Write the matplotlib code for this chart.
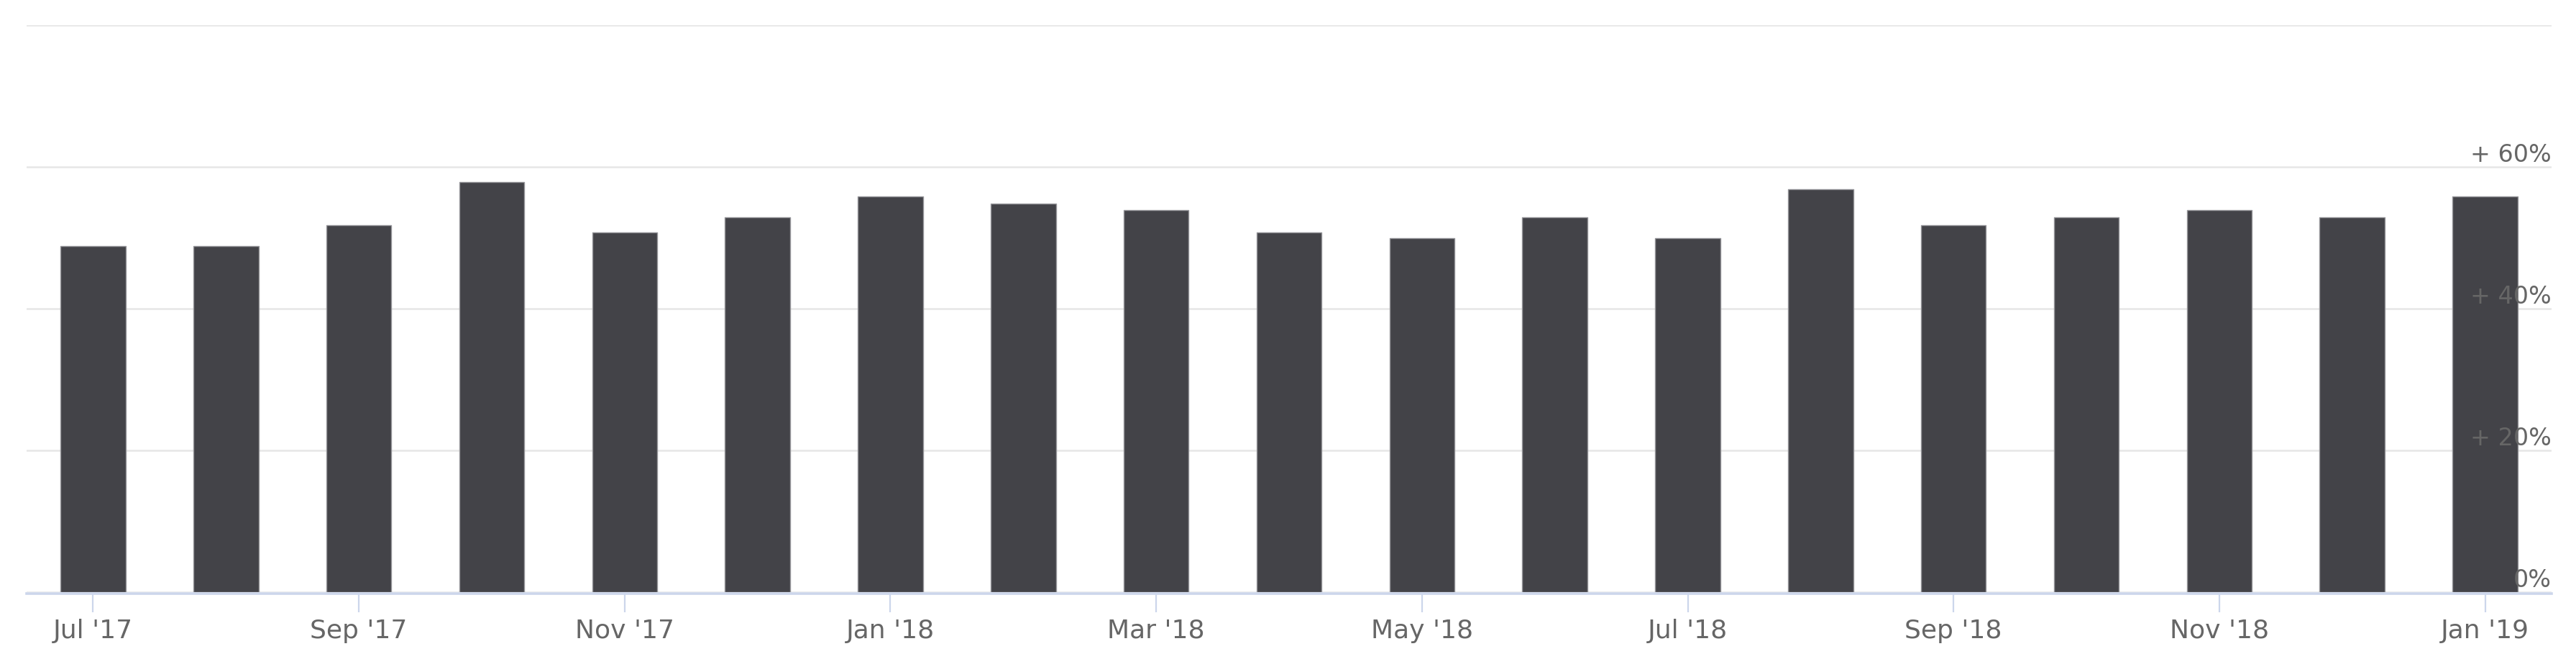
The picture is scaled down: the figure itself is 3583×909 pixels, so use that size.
import matplotlib
matplotlib.use("Agg")
import matplotlib.pyplot as plt
import matplotlib.transforms as mtransforms

# ---- data ----
months = ["Jul '17", "Aug '17", "Sep '17", "Oct '17", "Nov '17", "Dec '17",
          "Jan '18", "Feb '18", "Mar '18", "Apr '18", "May '18", "Jun '18",
          "Jul '18", "Aug '18", "Sep '18", "Oct '18", "Nov '18", "Dec '18",
          "Jan '19"]
values = [48.8, 48.8, 51.8, 57.9, 50.8, 52.9, 55.8, 54.8, 53.9, 50.8,
          49.9, 52.9, 49.9, 56.9, 51.8, 52.9, 53.9, 52.9, 55.8]
y_ticks = [0, 20, 40, 60, 80]
y_labels = {0: "0%", 20: "+ 20%", 40: "+ 40%", 60: "+ 60%"}

W, H, DPI = 3583, 909, 100
plt.rcParams['font.family'] = ['DejaVu Sans']
fig = plt.figure(figsize=(W / DPI, H / DPI), dpi=DPI)

left_px, right_px, top_px, bottom_px = 37, 3549, 35, 823
ax = fig.add_axes([left_px / W, 1 - bottom_px / H,
                   (right_px - left_px) / W, (bottom_px - top_px) / H])

x = list(range(len(months)))
ax.bar(x, values, width=0.49, color='#434348', edgecolor='#96969a',
       linewidth=1.0, zorder=3)

ax.set_xlim(-0.5, len(months) - 0.5)
ax.set_ylim(0, 80)

# gridlines
for t in y_ticks:
    ax.axhline(t, color='#e6e6e6', linewidth=1.8, zorder=1)

for name, s in ax.spines.items():
    s.set_visible(False)
ax.spines['bottom'].set_visible(True)
ax.spines['bottom'].set_color('#ccd6eb')
ax.spines['bottom'].set_linewidth(2.6)
ax.spines['bottom'].set_position(('outward', 1.5))
ax.spines['bottom'].set_zorder(2)

ax.set_yticks([])
tick_pos = x[::2]
ax.set_xticks(tick_pos)
ax.set_xticklabels([months[i] for i in tick_pos])
ax.tick_params(axis='x', length=19, width=1.6, color='#ccd6eb', pad=6,
               labelsize=26, labelcolor='#666666')

# right-side y labels above gridlines
trans = mtransforms.blended_transform_factory(ax.transAxes, ax.transData)
for t, lab in y_labels.items():
    ax.annotate(lab, xy=(1.0, t), xycoords=trans, xytext=(0, 5),
                textcoords='offset points', ha='right', va='baseline',
                fontsize=24, color='#666666', zorder=6)

fig.savefig("out.png", dpi=DPI)
